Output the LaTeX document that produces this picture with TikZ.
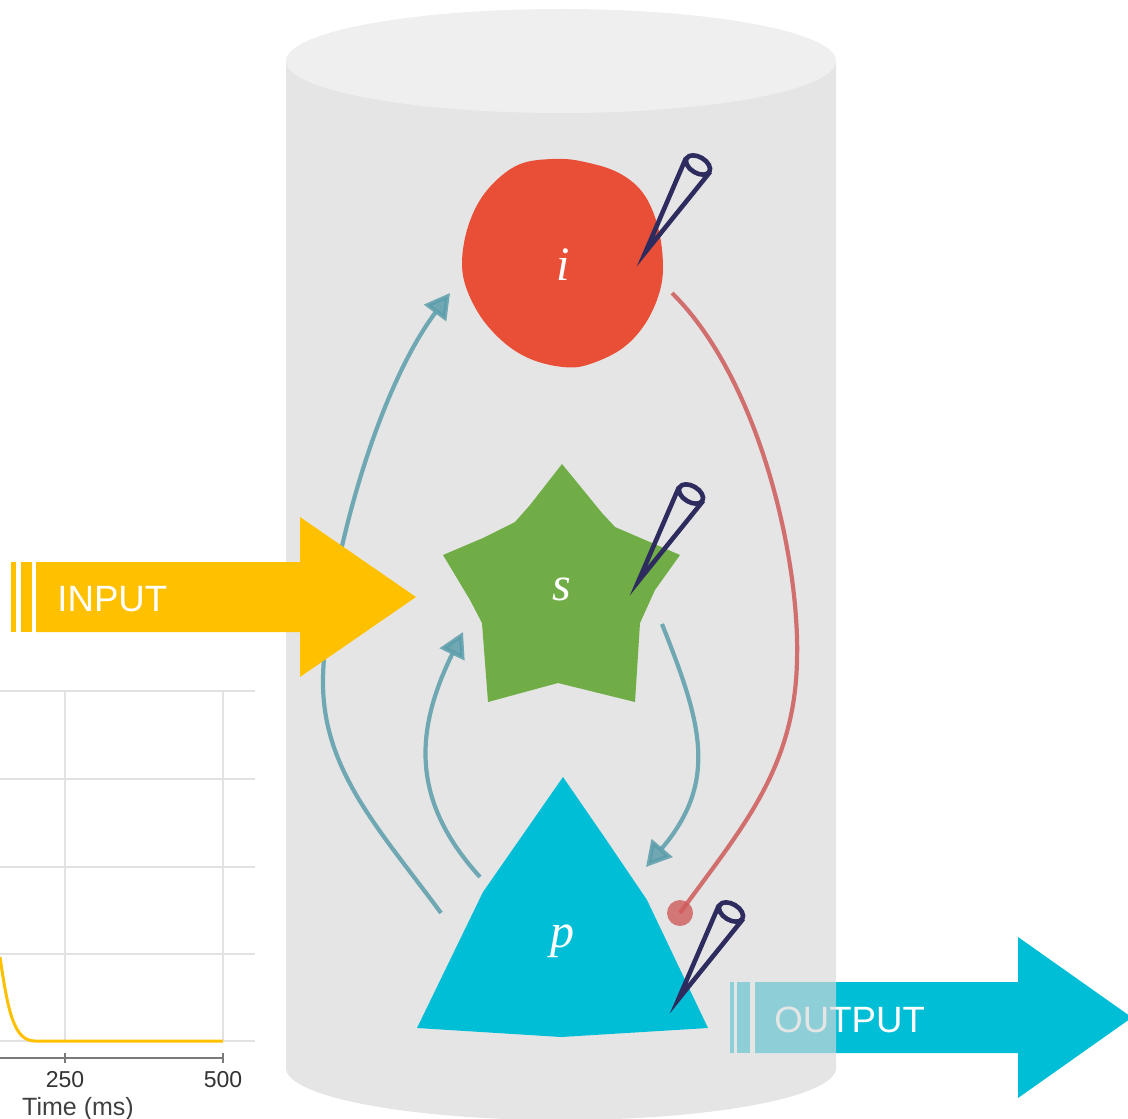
\documentclass[tikz,border=0pt]{standalone}
\usepackage{fontspec}
\setmainfont{Liberation Serif}
\newfontfamily\iofont{Liberation Sans}
\usetikzlibrary{arrows.meta}

\definecolor{cylbody}{HTML}{D8D8D8}
\definecolor{cyltop}{HTML}{EFEFEF}
\definecolor{inyellow}{HTML}{FFC000}
\definecolor{outcyan}{HTML}{00BED6}
\definecolor{icol}{HTML}{E94E36}
\definecolor{scol}{HTML}{70AD47}
\definecolor{pcol}{HTML}{00BED6}
\definecolor{linkteal}{HTML}{5B9DAB}
\definecolor{inhibred}{HTML}{CF5A5A}
\definecolor{elec}{HTML}{2E2B5F}
\definecolor{gridgray}{HTML}{E2E2E2}
\definecolor{axisgray}{HTML}{7A7A7A}

\tikzset{
  gridline/.style={draw=gridgray, line width=0.6pt},
  axisline/.style={draw=axisgray, line width=1pt},
  ticklab/.style={font=\iofont\fontsize{11.5pt}{13pt}\selectfont, text=black!80, inner sep=0pt},
  axislab/.style={font=\iofont\fontsize{12.5pt}{14pt}\selectfont, text=black!75, inner sep=0pt},
  iotext/.style={font=\iofont\fontsize{18.3pt}{20pt}\selectfont, text=white, inner sep=0pt, anchor=base west},
  celllab/.style={font=\itshape\fontsize{24pt}{26pt}\selectfont, text=white, inner sep=0pt},
  excite/.style={draw=linkteal, opacity=0.85, line width=2.1pt,
    -{Triangle[length=12.5pt,width=13.5pt]}},
  inhib/.style={draw=inhibred, opacity=0.85, line width=2.1pt},
  electrode/.pic={
    \draw[draw=elec, line width=2.3pt, line join=miter, miter limit=25]
      (50,-110) -- (9.5,-16) -- (74,-96);
    \draw[draw=elec, line width=2.3pt, rotate around={-31:(62,-103)}]
      (62,-103) ellipse (6.6pt and 4pt);
  }
}

\begin{document}
\begin{tikzpicture}[x=0.5pt, y=-0.5pt]
\useasboundingbox (0,0) rectangle (1128,1118);

% ---- response trace (partly visible chart) ----
\foreach \gy in {691,779,867,954,1041}
  \draw[gridline] (0,\gy) -- (255,\gy);
\foreach \gx in {65,223}
  \draw[gridline] (\gx,691) -- (\gx,1041);
\draw[draw=inyellow, line width=1.5pt]
  (0,957) .. controls (8,1012) and (14,1041) .. (35,1041) -- (223,1041);
\draw[axisline] (0,1058) -- (223,1058);
\draw[axisline] (65,1053) -- (65,1063);
\draw[axisline] (223,1053) -- (223,1063);
\node[ticklab] (t250) at (65,1080) {250};
\node[ticklab] (t500) at (223,1080) {500};
\node[axislab, anchor=base] (tlab) at (78,1115) {Time (ms)};

% ---- output arrow (partly seen through the column) ----
\fill[outcyan] (755,982) -- (1018,982) -- (1018,937) -- (1132,1017.5)
  -- (1018,1098) -- (1018,1053) -- (755,1053) -- cycle;
\fill[outcyan] (737,982) rectangle (750,1053);
\fill[outcyan] (730,982) rectangle (734,1053);
\node[iotext] (outlab) at (774,1032) {OUTPUT};

% ---- column ----
\fill[cylbody, opacity=0.66] (286,62) -- (286,1068)
  arc[start angle=180, end angle=0, x radius=275, y radius=52]
  -- (836,62) -- cycle;
\fill[cyltop] (561,61) ellipse [x radius=275, y radius=52];

% ---- connection endpoints ----
\coordinate (pOutA) at (441,913);
\coordinate (iIn)   at (450,293);
\coordinate (pOutB) at (480,877);
\coordinate (sIn)   at (463,632);
\coordinate (sOut)  at (662,624);
\coordinate (pIn)   at (646,867);
\coordinate (iOut)  at (672,293);
\coordinate (pInh)  at (680,913);

% ---- connections ----
\draw[excite] (pOutA) .. controls (380,830) and (322,770) .. (323,680)
  .. controls (324,590) and (370,400) .. (iIn);
\draw[excite] (pOutB) .. controls (410,800) and (415,730) .. (sIn);
\draw[excite] (sOut) .. controls (700,720) and (720,780) .. (pIn);
\draw[inhib] (iOut) .. controls (760,380) and (800,560) .. (797,660)
  .. controls (795,770) and (740,830) .. (pInh);
\fill[inhibred, opacity=0.8] (pInh) circle (6.5pt);

% ---- input arrow ----
\fill[inyellow] (36,562) -- (300,562) -- (300,517) -- (416,597)
  -- (300,677) -- (300,632) -- (36,632) -- cycle;
\fill[inyellow] (21,562) rectangle (32,632);
\fill[inyellow] (11,562) rectangle (16,632);
\node[iotext] (inlab) at (57,611) {INPUT};

% ---- cells ----
\fill[icol] plot[smooth cycle, tension=0.6] coordinates {
  (553,159) (580,161) (617,172) (643,193) (658,227) (663,267) (658,297)
  (643,327) (620,350) (587,365) (563,367) (533,360) (507,345) (483,320)
  (467,290) (462,263) (467,230) (480,200) (500,177) (523,163)};
\fill[scol] (562,464) -- (602,513) -- (615,527) -- (680,555) -- (655,590)
  -- (640,623) -- (635,702) -- (558,683) -- (488,702) -- (482,623)
  -- (470,600) -- (443,555) -- (483,538) -- (515,522) -- (530,505) -- cycle;
\fill[pcol] (563,777) -- (605,838) -- (647,900) -- (708,1028)
  -- (561,1037) -- (417,1028) -- (450,960) -- (483,892) -- cycle;

\node[celllab] (i) at (563,265) {i};
\node[celllab] (s) at (562,589) {s};
\node[celllab] (p) at (562,941) {p};

% ---- recording electrodes ----
\pic at (636,268) {electrode};
\pic at (629,597) {electrode};
\pic at (669,1015) {electrode};

\end{tikzpicture}
\end{document}
